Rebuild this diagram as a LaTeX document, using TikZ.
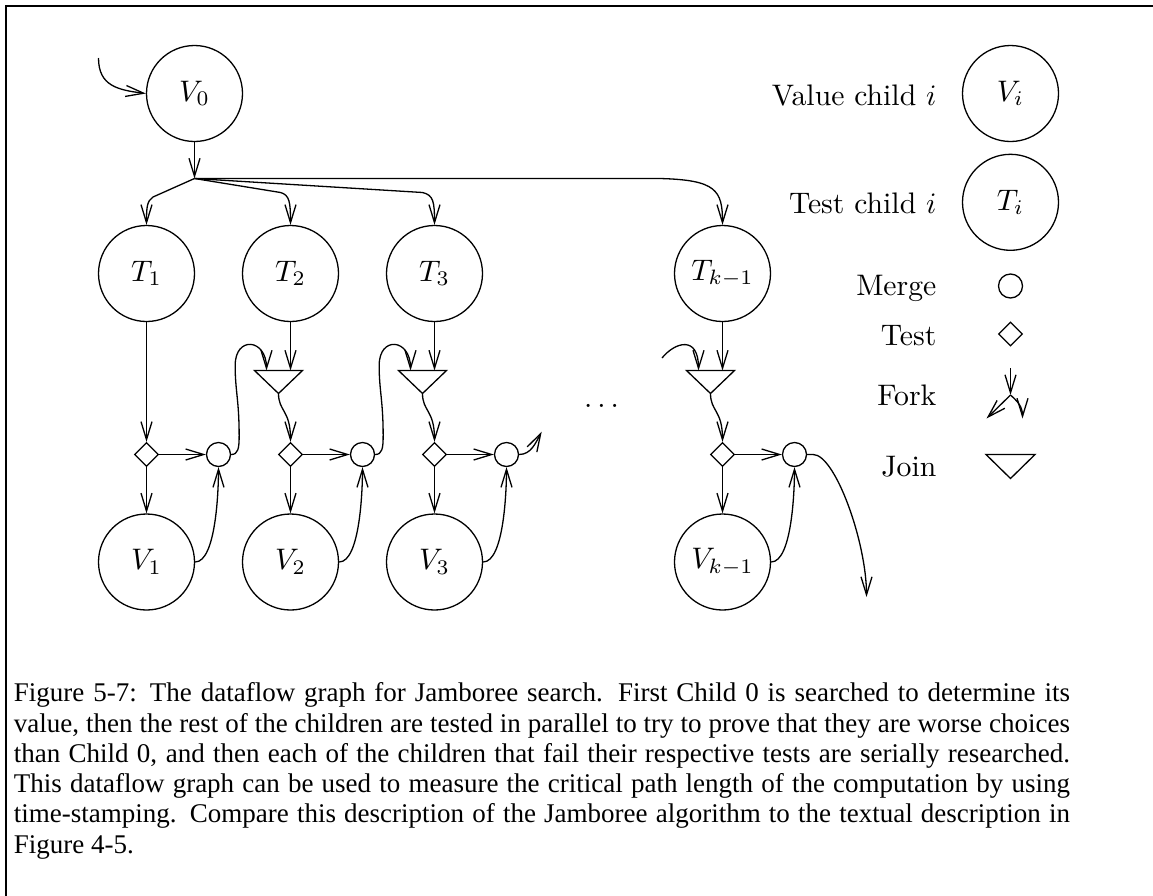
\documentclass[tikz,border=0pt]{standalone}
\usepackage{fontspec}
\usepackage{graphicx}
\usetikzlibrary{arrows.meta,shapes.geometric,calc}
\newfontfamily\capfont{Liberation Serif}
\newcommand{\dtext}[1]{\scalebox{2.97}{#1}}
\begin{document}
\begin{tikzpicture}[x=1pt,y=1pt,line width=1.3pt,
  arr/.style={-{Straight Barb[length=18pt,width=11pt]}},
  big/.style={circle,draw,minimum size=96pt,inner sep=0pt},
  merge/.style={circle,draw,minimum size=24pt,inner sep=0pt},
  test/.style={diamond,draw,minimum size=24pt,inner sep=0pt,aspect=1},
  lbl/.style={anchor=base east,inner sep=0pt}]
\useasboundingbox (0,0) rectangle (1153,-895);
\draw[line width=2pt] (1160,-6) -- (6,-6) -- (6,-900);

% value child 0 and fork
\node[big] (V0) at (194.5,-93.5) {\dtext{$V_0$}};
\coordinate (in0) at (98.5,-58);
\draw[arr] (in0) .. controls (98.5,-86) and (118,-90) .. (V0.west);
\coordinate (F) at (194.5,-178.5);
\draw[arr] (V0) -- (F);

% columns
\foreach \cx/\n/\s in {146.5/1/1,290.5/2/2,434.5/3/3,722.5/k/{k-1}} {
  \node[big] (T\n) at (\cx,-273.5) {\dtext{$T_{\s}$}};
  \node[test] (D\n) at (\cx,-454.5) {};
  \node[merge] (M\n) at (\cx+72,-454.5) {};
  \node[big] (V\n) at (\cx,-562) {\dtext{$V_{\s}$}};
  \draw[arr] (D\n) -- (M\n);
  \draw[arr] (D\n) -- (V\n);
  \draw[arr] (V\n.east) .. controls +(21,0) and +(0,-22) .. (M\n.south);
}
\draw[arr] (T1) -- (D1);

% joins
\foreach \cx/\n in {290.5/2,434.5/3,722.5/k} {
  \coordinate (Jt\n) at (\cx,-370.5);
  \coordinate (Jm\n) at (\cx-24,-370.5);
  \coordinate (Ja\n) at (\cx-12,-393.5);
  \draw (\cx-36,-370.5) -- (\cx+12,-370.5) -- (Ja\n) -- cycle;
  \draw[arr] (T\n) -- (Jt\n);
  \draw[arr] (Ja\n) .. controls +(0,-18) and +(0,32) .. (D\n.north);
}

% fork branches
\draw[arr] (F) -- (153,-197) .. controls (147,-201) and (146.5,-207) .. (T1.north);
\draw[arr] (F) -- (280.5,-192.5) .. controls (289.5,-195) and (290.5,-202) .. (T2.north);
\draw[arr] (F) -- (422.5,-192.5) .. controls (433.5,-195) and (434.5,-202) .. (T3.north);
\draw[arr] (F) -- (660,-178.5) .. controls (716,-180) and (722.5,-190) .. (Tk.north);

% merge to next join
\foreach \a/\b in {1/2,2/3} {
  \draw[arr] (M\a.east) .. controls +(7,0) and +(0,-13) .. ($(M\a.east)+(8,19)$)
    .. controls +(0,35) and +(0,-25) .. ($(M\a.east)+(4,89)$)
    .. controls +(0,30) and +(0,32) .. (Jm\b);
}
\coordinate (out3) at (541.7,-431.7);
\draw[arr] (M3.east) .. controls +(12,0) and +(-6,-11) .. (out3);
\coordinate (ink) at (662,-358);
\draw[arr] (ink) .. controls (675,-342) and (698.5,-335) .. (Jmk);
\coordinate (outk) at (866.5,-597);
\draw[arr] (Mk.east) -- ++(6,0) .. controls +(22,0) and +(0,55) .. (outk);

\node[anchor=base,inner sep=0pt] (dots) at (601.5,-407) {\dtext{$\ldots$}};

% legend
\node[big] (LV) at (1010.5,-93.5) {\dtext{$V_i$}};
\node[lbl] (LVt) at (937,-105) {\dtext{Value child $i$}};
\node[big] (LT) at (1010.5,-202.3) {\dtext{$T_i$}};
\node[lbl] (LTt) at (937,-213.3) {\dtext{Test child $i$}};
\node[merge] (LM) at (1010.5,-286) {};
\node[lbl] (LMt) at (937,-295) {\dtext{Merge}};
\node[test] (LD) at (1010.5,-334) {};
\node[lbl] (LDt) at (937,-345) {\dtext{Test}};
\coordinate (fkin) at (1010.5,-368);
\coordinate (fk) at (1010.5,-395);
\coordinate (fkl) at (986.5,-418.5);
\coordinate (fkr) at (1022.5,-418.5);
\draw[arr] (fkin) -- (fk);
\draw[arr] (fk) -- (fkl);
\draw[arr] (fk) .. controls (1017,-401) and (1022.5,-406) .. (fkr);
\node[lbl] (LFt) at (937,-405) {\dtext{Fork}};
\draw (986,-454.5) -- (1035,-454.5) -- (1010.5,-478.5) -- cycle;
\node[lbl] (LJt) at (937,-476) {\dtext{Join}};

% caption
\node[anchor=base west,inner sep=0pt,text width=1056pt,align=justify,
  font=\capfont\fontsize{27}{30.3}\selectfont] (cap) at (13.3,-701.7)
 {Figure 5-7: The dataflow graph for Jamboree search. First Child 0 is searched to determine its\linebreak
 value, then the rest of the children are tested in parallel to try to prove that they are worse choices\linebreak
 than Child 0, and then each of the children that fail their respective tests are serially researched.\linebreak
 This dataflow graph can be used to measure the critical path length of the computation by using\linebreak
 time-stamping. Compare this description of the Jamboree algorithm to the textual description in\linebreak
 Figure 4-5.};
\end{tikzpicture}
\end{document}
